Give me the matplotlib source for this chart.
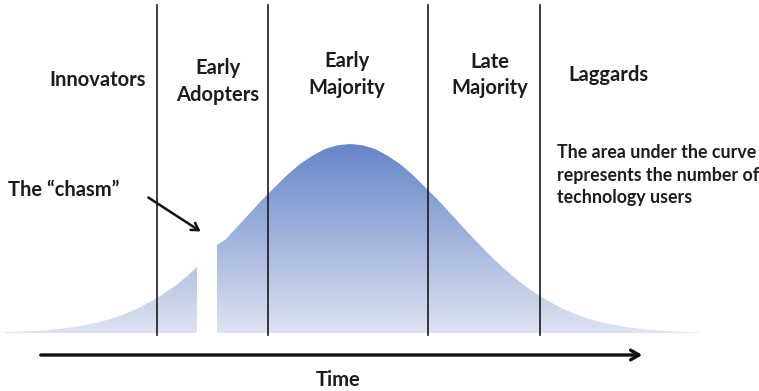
import matplotlib
matplotlib.use("Agg")
import matplotlib.pyplot as plt
import numpy as np
from matplotlib.patches import Polygon
from matplotlib.colors import LinearSegmentedColormap

# ---- data (x = time, y = number of users) ----
left_x = [5, 25, 50, 75, 100, 112.5, 125, 137.5, 150, 162.5, 175, 187.5, 197]
left_y = [1, 1.5, 3, 6, 11, 14.6, 19, 24.4, 31, 38.4, 47, 57, 66]
right_x = [217, 225, 237.5, 250, 262.5, 275, 287.5, 300, 312.5, 325, 337.5,
           350, 362.5, 375, 387.5, 400, 412.5, 425, 437.5, 450, 462.5, 475,
           487.5, 500, 512.5, 525, 537.5, 550, 562.5, 575, 587.5, 600, 625,
           650, 675, 700]
right_y = [88, 93, 106.4, 120, 133.6, 146, 158.3, 169, 177.3, 184, 187.7,
           189, 187.7, 184, 177.3, 169, 158.3, 146, 133.6, 120, 106.4, 93,
           80.2, 68, 57, 47, 38.4, 31, 24.4, 19, 14.6, 11, 6,
           3, 1.5, 0.5]
boundaries = [157, 268, 428, 540]
segment_labels = ["Innovators", "Early\nAdopters", "Early\nMajority",
                  "Late\nMajority", "Laggards"]
axis_label = "Time"
chasm_label = "The \u201cchasm\u201d"
note = "The area under the curve\nrepresents the number of\ntechnology users"

plt.rcParams['font.family'] = ['Lato', 'DejaVu Sans']
TXT = '#1c1c1c'

fig = plt.figure(figsize=(7.59, 3.91), dpi=100)
ax = fig.add_axes([0, 0, 1, 1])
ax.set_xlim(0, 759)
ax.set_ylim(-58, 333)
ax.axis('off')

cmap = LinearSegmentedColormap.from_list('g', ['#dde3f1', '#6685c9'])
grad = np.linspace(0, 1, 256).reshape(-1, 1)
for xs, ys in [(left_x, left_y), (right_x, right_y)]:
    verts = [(xs[0], 0)] + list(zip(xs, ys)) + [(xs[-1], 0)]
    poly = Polygon(verts, closed=True, facecolor='none', edgecolor='none')
    ax.add_patch(poly)
    im = ax.imshow(grad, extent=[0, 759, 0, 189], origin='lower',
                   cmap=cmap, aspect='auto', zorder=1)
    im.set_clip_path(poly)
ax.set_xlim(0, 759)
ax.set_ylim(-58, 333)

for b in boundaries:
    ax.plot([b, b], [-2, 328], color='#1a1a1a', lw=1.2, zorder=3)

fs = 14.5
label_pos = [(98, 253), (218, 251.5), (347, 258.5), (490, 258), (568, 258)]
for (x, y), lab in zip(label_pos, segment_labels):
    ha = 'left' if lab == "Laggards" else 'center'
    ax.text(x, y, lab, ha=ha, va='center', fontsize=fs, fontweight='bold',
            color=TXT, linespacing=1.4)

ax.text(557, 158, note, ha='left', va='center', fontsize=12.8,
        fontweight='bold', color=TXT, linespacing=1.4)
ax.text(8, 143, chasm_label, ha='left', va='center', fontsize=fs,
        fontweight='bold', color=TXT)
ax.annotate('', xy=(203, 100), xytext=(146, 137),
            arrowprops=dict(arrowstyle='->,head_length=0.5,head_width=0.3',
                            color='#111111', lw=1.8), zorder=4)

ax.annotate('', xy=(645, -22), xytext=(38, -22),
            arrowprops=dict(arrowstyle='->,head_length=0.6,head_width=0.35',
                            color='#111111', lw=2.4), zorder=4)
ax.text(338, -47, axis_label, ha='center', va='center', fontsize=fs,
        fontweight='bold', color=TXT)

fig.savefig('out.png', dpi=100)
